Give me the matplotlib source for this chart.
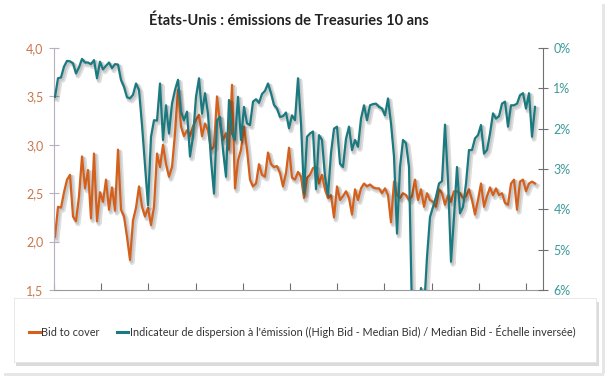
import numpy as np
import matplotlib
matplotlib.use("Agg")
import matplotlib.pyplot as plt
import matplotlib.patheffects as pe
from matplotlib.patches import Rectangle
from matplotlib.lines import Line2D
from matplotlib.ticker import FuncFormatter

plt.rcParams['font.family'] = ['Lato', 'DejaVu Sans']

title = "États-Unis : émissions de Treasuries 10 ans"
label_btc = "Bid to cover"
label_disp = "Indicateur de dispersion à l'émission ((High Bid - Median Bid) / Median Bid - Échelle inversée)"

left_ticks = [1.5, 2.0, 2.5, 3.0, 3.5, 4.0]
right_ticks = [0, 1, 2, 3, 4, 5, 6]

# Bid to cover (left axis)
bid_to_cover = [
    2.05, 2.36, 2.35, 2.51, 2.64, 2.69, 2.26, 2.21, 2.47, 2.88,
    2.55, 2.74, 2.24, 2.91, 2.21, 2.51, 2.41, 2.64, 2.33, 2.56,
    2.32, 2.95, 2.33, 2.26, 2.05, 1.81, 2.22, 2.35, 2.57, 2.36,
    2.26, 2.35, 2.17, 2.36, 2.91, 2.77, 3.00, 2.80, 2.67, 2.77,
    3.12, 3.57, 3.19, 3.09, 3.15, 3.09, 3.19, 3.26, 3.31, 3.09,
    3.22, 3.15, 2.95, 2.98, 3.50, 3.22, 3.05, 3.12, 2.95, 3.62,
    2.55, 2.84, 2.95, 3.19, 2.95, 2.64, 2.57, 2.60, 2.80, 2.69,
    2.67, 2.92, 2.80, 2.77, 2.78, 2.71, 2.57, 2.71, 2.97, 2.66,
    2.64, 2.72, 2.67, 2.45, 2.66, 2.69, 2.76, 2.77, 2.60, 2.69,
    2.54, 2.45, 2.48, 2.25, 2.57, 2.43, 2.47, 2.52, 2.45, 2.28,
    2.54, 2.43, 2.55, 2.60, 2.57, 2.59, 2.56, 2.55, 2.55, 2.50,
    2.55, 2.48, 2.20, 2.62, 2.48, 2.45, 2.50, 2.48, 2.43, 2.47,
    2.64, 2.43, 2.54, 2.36, 2.50, 2.43, 2.41, 2.36, 2.54, 2.50,
    2.38, 2.48, 2.41, 2.52, 2.52, 2.50, 2.45, 2.47, 2.54, 2.43,
    2.28, 2.43, 2.60, 2.36, 2.47, 2.56, 2.48, 2.55, 2.48, 2.50,
    2.40, 2.38, 2.60, 2.64, 2.33, 2.62, 2.64, 2.52, 2.60, 2.62,
    2.60,
]

# Dispersion indicator in % (right axis, inverted)
dispersion = [
    1.21, 0.75, 0.73, 0.46, 0.32, 0.33, 0.38, 0.63, 0.48, 0.27,
    0.36, 0.36, 0.40, 0.30, 0.75, 0.34, 0.53, 0.44, 0.36, 0.50,
    0.40, 0.41, 0.79, 0.96, 1.22, 1.25, 1.16, 0.88, 1.04, 1.91,
    2.90, 3.90, 2.20, 1.79, 1.80, 0.88, 2.28, 1.42, 2.12, 1.38,
    1.04, 0.79, 1.58, 1.79, 1.58, 2.69, 2.20, 1.21, 0.75, 1.63,
    1.12, 1.63, 2.78, 3.61, 1.79, 1.71, 2.53, 3.19, 1.29, 2.12,
    2.28, 1.21, 2.28, 1.46, 1.87, 1.91, 1.33, 1.27, 1.36, 1.14,
    1.06, 0.88, 1.12, 1.41, 1.50, 1.71, 1.69, 1.60, 1.99, 1.67,
    1.79, 0.75, 1.87, 3.60, 2.20, 2.12, 2.07, 3.50, 2.16, 2.28,
    3.19, 3.65, 2.60, 2.00, 1.95, 2.87, 2.95, 2.25, 1.95, 2.53,
    2.28, 2.45, 1.75, 1.42, 1.79, 1.42, 1.39, 1.38, 1.46, 1.50,
    1.67, 1.25, 1.87, 2.69, 4.60, 2.95, 2.28, 2.36, 2.95, 6.60,
    6.80, 6.80, 5.95, 6.50, 5.18, 4.19, 3.94, 3.69, 3.36, 3.30,
    1.90, 3.28, 5.30, 4.19, 2.95, 4.10, 3.94, 3.36, 2.53, 2.53,
    2.24, 2.16, 1.91, 2.62, 2.53, 2.12, 1.62, 1.75, 1.69, 1.38,
    1.33, 1.95, 1.42, 1.42, 1.38, 1.17, 1.12, 1.50, 1.12, 2.20,
    1.46,
]

orange = '#d4601c'
teal = '#1b7a80'
orange_txt = '#c9774a'
teal_txt = '#3b9a98'
axis_col = '#9a9a9a'

W, H = 608, 378
fig = plt.figure(figsize=(W / 100, H / 100), dpi=100)
fig.patch.set_facecolor('white')

# faint chart-area shadow along right and bottom edges
fig.patches.append(Rectangle(((W - 6) / W, 4 / H), 3 / W, (H - 8) / H, transform=fig.transFigure,
                             facecolor='#e6e6e6', edgecolor='none', zorder=0))
fig.patches.append(Rectangle((4 / W, 2 / H), (W - 8) / W, 3 / H, transform=fig.transFigure,
                             facecolor='#e6e6e6', edgecolor='none', zorder=0))

ax = fig.add_axes([54 / W, 1 - 290 / H, (543 - 54) / W, (290 - 48) / H])
ax2 = ax.twinx()

idx = np.arange(len(bid_to_cover))
x0 = -1 / 3
x1 = (543 - 55) / 3
shadow = [pe.SimpleLineShadow(offset=(1.5, -1.8), shadow_color='#000000', alpha=0.13, linewidth=3.6),
          pe.SimpleLineShadow(offset=(1.0, -1.2), shadow_color='#000000', alpha=0.10, linewidth=2.2),
          pe.Normal()]

ax.plot(idx, bid_to_cover, color=orange, lw=1.6, path_effects=shadow)
ax2.plot(idx, dispersion, color=teal, lw=1.6, path_effects=shadow)

ax.set_xlim(x0, x1)
ax.set_ylim(1.5, 4.0)
ax2.set_ylim(6, 0)

ax.set_yticks(left_ticks)
ax.yaxis.set_major_formatter(FuncFormatter(lambda v, p: f"{v:.1f}".replace('.', ',')))
ax2.set_yticks(right_ticks)
ax2.yaxis.set_major_formatter(FuncFormatter(lambda v, p: f"{int(v)}%"))

step = 47.2 / 3
ax.set_xticks(np.arange(x0, x1, step))
ax.set_xticklabels([])

for a in (ax, ax2):
    a.spines['top'].set_visible(False)
    a.patch.set_alpha(0)
ax.spines['left'].set_color('#b8b0c0')
ax.spines['bottom'].set_color(axis_col)
ax.spines['right'].set_visible(False)
ax2.spines['left'].set_visible(False)
ax2.spines['bottom'].set_visible(False)
ax2.spines['right'].set_color('#707070')

ax.tick_params(axis='y', direction='inout', length=7, color='#b8b0c0', labelcolor=orange_txt,
               labelsize=9, pad=4)
ax.tick_params(axis='x', direction='in', length=5, color='#707070')
ax2.tick_params(axis='y', direction='inout', length=7, color='#707070', labelcolor=teal_txt,
                labelsize=9, pad=4)

fig.text(0.475, 1 - 21 / H, title, ha='center', va='center', fontsize=10.5, fontweight='bold', color='#222222')

# legend box with shadow
bx, by, bw, bh = 14 / W, 1 - 362 / H, (596 - 14) / W, (362 - 298) / H
fig.patches.append(Rectangle((bx + 2 / W, by - 4 / H), bw + 1 / W, bh, transform=fig.transFigure,
                             facecolor='#b8b8b8', edgecolor='none', alpha=0.5, zorder=5))
fig.patches.append(Rectangle((bx, by), bw, bh, transform=fig.transFigure,
                             facecolor='white', edgecolor='#e4e4e4', lw=0.6, zorder=6))

handles = [Line2D([], [], color=orange, lw=2.2), Line2D([], [], color=teal, lw=2.2)]
leg = fig.legend(handles, [label_btc, label_disp], loc='center', bbox_to_anchor=(0.497, 1 - 331 / H),
                 ncol=2, frameon=False, fontsize=7.8, handlelength=1.0, handletextpad=0.15,
                 columnspacing=1.6, labelcolor='#333333')
leg.set_zorder(7)

fig.savefig('out.png', dpi=100)
